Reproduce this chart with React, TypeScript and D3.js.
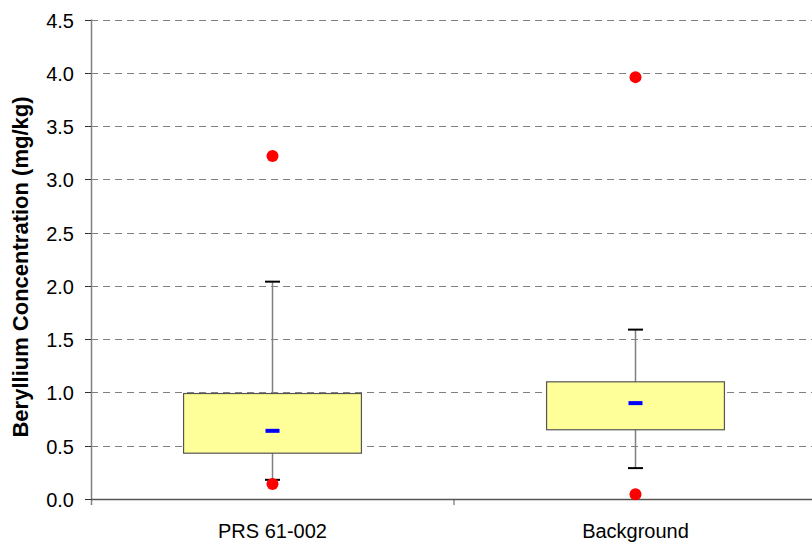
import * as d3 from "d3";
import { useEffect, useRef } from "react";

const categories = ["PRS 61-002", "Background"];
const q1 = [0.43, 0.65];
const q3 = [0.99, 1.1];
const medians = [0.64, 0.9];
const whiskerLow = [0.18, 0.29];
const whiskerHigh = [2.04, 1.59];
const outliers = [
  [3.22, 0.14],
  [3.96, 0.045],
];
const yTicks = [0, 0.5, 1, 1.5, 2, 2.5, 3, 3.5, 4, 4.5];

export default function App() {
  const ref = useRef<SVGSVGElement>(null);

  useEffect(() => {
    if (!ref.current) return;
    const svg = d3.select(ref.current);
    svg.selectAll("*").remove();

    const width = 812;
    const height = 546;
    const left = 91;
    const right = 817;
    const top = 19.6;
    const bottom = 499;
    const font = "Liberation Sans, Arial, sans-serif";

    svg.attr("width", width).attr("height", height);

    const y = d3.scaleLinear().domain([0, 4.5]).range([bottom, top]);
    const x = d3.scaleBand().domain(categories).range([left, right]);
    const boxW = x.bandwidth() * 0.49;

    // gridlines
    svg.append("g")
      .selectAll("line")
      .data(yTicks.filter(t => t > 0))
      .enter()
      .append("line")
      .attr("x1", left)
      .attr("x2", width)
      .attr("y1", d => Math.round(y(d)) + 0.5)
      .attr("y2", d => Math.round(y(d)) + 0.5)
      .attr("stroke", "#808080")
      .attr("stroke-width", 1)
      .attr("stroke-dasharray", "7,5");

    // y axis
    const yAxis = svg.append("g");
    yAxis.append("line")
      .attr("x1", left + 0.5).attr("x2", left + 0.5)
      .attr("y1", top).attr("y2", bottom + 6)
      .attr("stroke", "#808080").attr("stroke-width", 1.5);
    yTicks.forEach(t => {
      const yy = Math.round(y(t)) + 0.5;
      yAxis.append("line")
        .attr("x1", left - 6).attr("x2", left)
        .attr("y1", yy).attr("y2", yy)
        .attr("stroke", "#333").attr("stroke-width", 1);
      yAxis.append("text")
        .attr("x", 74)
        .attr("y", yy + 7)
        .attr("text-anchor", "end")
        .attr("font-family", font)
        .attr("font-size", "20px")
        .attr("fill", "#000")
        .text(d3.format(".1f")(t));
    });

    // x axis
    svg.append("line")
      .attr("x1", left).attr("x2", width)
      .attr("y1", bottom + 0.5).attr("y2", bottom + 0.5)
      .attr("stroke", "#555").attr("stroke-width", 1.5);
    const divX = (x(categories[1]) as number);
    svg.append("line")
      .attr("x1", divX).attr("x2", divX)
      .attr("y1", bottom).attr("y2", bottom + 6)
      .attr("stroke", "#555").attr("stroke-width", 1);

    categories.forEach((c, i) => {
      const cx = (x(c) as number) + x.bandwidth() / 2;
      const g = svg.append("g");

      // whisker
      g.append("line")
        .attr("x1", cx).attr("x2", cx)
        .attr("y1", y(whiskerHigh[i])).attr("y2", y(whiskerLow[i]))
        .attr("stroke", "#808080").attr("stroke-width", 1.5);
      [whiskerHigh[i], whiskerLow[i]].forEach(v => {
        g.append("line")
          .attr("x1", cx - 7.5).attr("x2", cx + 7.5)
          .attr("y1", y(v)).attr("y2", y(v))
          .attr("stroke", "#000").attr("stroke-width", 2);
      });

      // box
      g.append("rect")
        .attr("x", cx - boxW / 2)
        .attr("y", y(q3[i]))
        .attr("width", boxW)
        .attr("height", y(q1[i]) - y(q3[i]))
        .attr("fill", "#ffff99")
        .attr("stroke", "#555")
        .attr("stroke-width", 1.2);

      // median marker
      g.append("rect")
        .attr("x", cx - 7)
        .attr("y", y(medians[i]) - 2)
        .attr("width", 14)
        .attr("height", 4)
        .attr("fill", "#0000ff");

      // outliers
      outliers[i].forEach(v => {
        g.append("circle")
          .attr("cx", cx)
          .attr("cy", y(v))
          .attr("r", 6)
          .attr("fill", "#ff0000");
      });

      // category label
      svg.append("text")
        .attr("x", cx)
        .attr("y", 538)
        .attr("text-anchor", "middle")
        .attr("font-family", font)
        .attr("font-size", "20px")
        .attr("fill", "#000")
        .text(c);
    });

    // y title
    svg.append("text")
      .attr("transform", `translate(28, 267) rotate(-90)`)
      .attr("text-anchor", "middle")
      .attr("font-family", font)
      .attr("font-size", "22px")
      .attr("font-weight", "bold")
      .attr("fill", "#000")
      .text("Beryllium Concentration (mg/kg)");
  }, []);

  return <svg ref={ref} style={{ position: "absolute", left: 0, top: 0 }} />;
}
